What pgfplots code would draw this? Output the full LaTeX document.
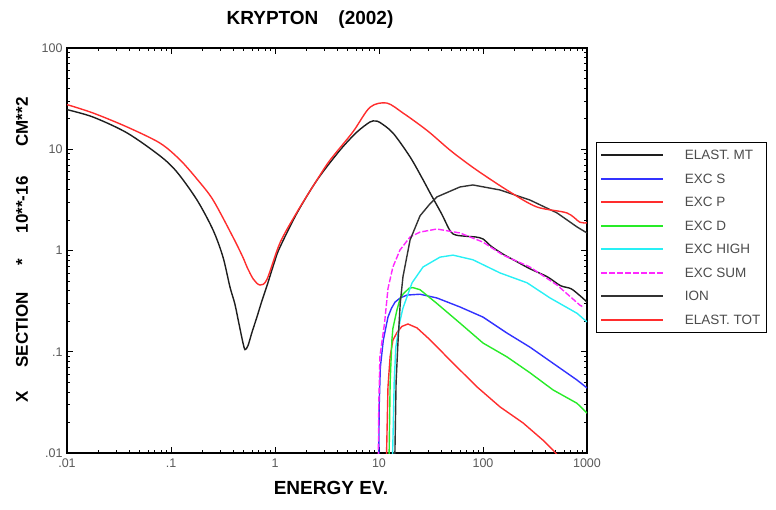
\documentclass[border=0pt]{standalone}
\usepackage{fontspec}
\setmainfont{Liberation Sans}
\usepackage{pgfplots}
\pgfplotsset{compat=1.18}
\definecolor{cblack}{RGB}{30,30,30}
\definecolor{cblue}{RGB}{50,50,255}
\definecolor{cred}{RGB}{255,45,45}
\definecolor{cgreen}{RGB}{40,235,40}
\definecolor{ccyan}{RGB}{40,240,245}
\definecolor{cmag}{RGB}{255,40,255}
\definecolor{cgray}{RGB}{50,50,50}
\begin{document}
\begin{tikzpicture}
\useasboundingbox (-67pt,-56pt) rectangle (709pt,453pt);
\begin{axis}[
  at={(0pt,0pt)}, anchor=south west,
  scale only axis, width=520pt, height=405pt,
  xmode=log, ymode=log,
  xmin=0.01, xmax=1000, ymin=0.01, ymax=100,
  xtick={0.01,0.1,1,10,100,1000},
  xticklabels={.01,.1,1,10,100,1000},
  ytick={0.01,0.1,1,10,100},
  yticklabels={.01,.1,1,10,100},
  minor xtick={0.02,0.03,0.04,0.05,0.06,0.07,0.08,0.09,0.2,0.3,0.4,0.5,0.6,0.7,0.8,0.9,2,3,4,5,6,7,8,9,20,30,40,50,60,70,80,90,200,300,400,500,600,700,800,900},
  minor ytick={0.02,0.03,0.04,0.05,0.06,0.07,0.08,0.09,0.2,0.3,0.4,0.5,0.6,0.7,0.8,0.9,2,3,4,5,6,7,8,9,20,30,40,50,60,70,80,90},
  tick align=inside,
  major tick length=6pt, minor tick length=3pt,
  tick style={black, line width=0.8pt},
  axis line style={line width=1.3pt},
  ticklabel style={font=\fontsize{12.5}{14}\selectfont, color=black!65},
  xticklabel style={yshift=-2pt},
  yticklabel style={xshift=-1pt},
  every axis plot/.append style={line width=1.4pt},
  legend image code/.code={\draw[#1, line width=2pt] (0pt,0pt) -- (62pt,0pt);},
  legend style={at={(1.0173,0.768)}, anchor=north west, draw=black, line width=0.8pt,
    font=\fontsize{13.5}{15}\selectfont, text=black!70, row sep=11pt,
    inner xsep=4pt, inner ysep=6.5pt,
    nodes={inner sep=1.5pt, text height=9.5pt, text depth=0pt},
    /tikz/every odd column/.append style={column sep=19pt}},
  legend cell align=left,
]
% ELAST. MT
\addplot[cblack, smooth] coordinates {
(0.01,24.6)(0.0178,20.8)(0.0378,14.5)(0.0784,8.6)(0.114,5.96)(0.178,3.15)(0.254,1.59)(0.316,0.863)(0.369,0.436)(0.41,0.30)(0.45,0.19)(0.49,0.125)(0.515,0.105)(0.55,0.115)(0.6,0.155)(0.67,0.22)(0.75,0.32)(0.838,0.45)(1.0,0.8)(1.117,1.08)(1.63,2.35)(2.54,4.97)(4.22,9.8)(6.14,14.8)(8.2,18.6)(9.2,19.0)(10.2,18.4)(13.6,14.5)(19.9,8.4)(26.5,5.0)(31,3.7)(40,2.3)(48.5,1.55)(55,1.42)(70,1.38)(85,1.36)(100,1.3)(120,1.1)(156,0.92)(200,0.8)(283,0.66)(415,0.55)(555,0.45)(700,0.42)(850,0.36)(1000,0.31)};
\addlegendentry{ELAST. MT}
% EXC S
\addplot[cblue] coordinates {
(9.95,0.009)(10.05,0.03)(10.3,0.07)(11,0.13)(12.2,0.22)(13.2,0.27)(14.3,0.31)(16,0.34)(18.6,0.363)(24.8,0.37)(36,0.34)(60,0.277)(100,0.22)(170,0.153)(283,0.111)(471,0.077)(801,0.0526)(1000,0.0439)};
\addlegendentry{EXC S}
% EXC P
\addplot[cred] coordinates {
(11.8,0.009)(12.2,0.045)(12.8,0.09)(13.6,0.13)(14.9,0.155)(16.6,0.178)(19,0.188)(23.2,0.172)(31,0.131)(48,0.083)(87.5,0.045)(146,0.0285)(243,0.0198)(377,0.0134)(471,0.0107)(520,0.0095)};
\addlegendentry{EXC P}
% EXC D
\addplot[cgreen] coordinates {
(12.5,0.009)(12.8,0.05)(13.3,0.13)(13.6,0.17)(14.9,0.26)(15.9,0.33)(17.0,0.37)(19.5,0.425)(21.2,0.43)(24.8,0.41)(36,0.30)(60,0.192)(100,0.122)(170,0.089)(283,0.062)(471,0.042)(801,0.031)(1000,0.0248)};
\addlegendentry{EXC D}
% EXC HIGH
\addplot[ccyan] coordinates {
(13.5,0.009)(14.0,0.05)(14.5,0.11)(15.9,0.2)(17,0.27)(20.8,0.48)(26.5,0.687)(38.6,0.86)(51.5,0.9)(80,0.81)(146,0.6)(265,0.48)(441,0.34)(801,0.24)(1000,0.197)};
\addlegendentry{EXC HIGH}
% EXC SUM
\addplot[cmag, dash pattern=on 6pt off 2pt] coordinates {
(9.85,0.009)(9.95,0.03)(10.2,0.089)(10.6,0.12)(11.3,0.19)(12.2,0.42)(13.6,0.687)(15.9,1.01)(19.9,1.36)(24.8,1.52)(36,1.63)(60,1.49)(100,1.21)(156,0.9)(283,0.687)(515,0.456)(850,0.29)(914,0.277)};
\addlegendentry{EXC SUM}
% ION
\addplot[cgray] coordinates {
(14.2,0.009)(14.6,0.05)(15.2,0.12)(16,0.3)(17,0.55)(19.9,1.27)(24.8,2.2)(31,2.9)(36,3.38)(60,4.24)(80,4.44)(146,3.96)(283,3.15)(515,2.35)(801,1.71)(1000,1.49)};
\addlegendentry{ION}
% ELAST. TOT
\addplot[cred, smooth] coordinates {
(0.01,27.6)(0.0178,22.8)(0.0378,16.6)(0.0784,11.5)(0.1225,7.83)(0.18,5.0)(0.254,3.15)(0.394,1.36)(0.49,0.863)(0.538,0.687)(0.62,0.52)(0.718,0.456)(0.838,0.52)(1.117,1.19)(1.63,2.4)(2.54,5.0)(3.38,7.8)(5.6,14.8)(8.2,26)(11.9,28.6)(17,22.8)(23.2,18.2)(31,14.5)(50,9.5)(87.5,6.2)(182,3.78)(330,2.69)(640,2.35)(855,1.9)(1000,1.88)};
\addlegendentry{ELAST. TOT}
\end{axis}
\node[font=\bfseries\fontsize{19}{22}\selectfont] at (243pt,433pt) {KRYPTON\hspace{20pt}(2002)};
\node[font=\bfseries\fontsize{19}{22}\selectfont] at (264pt,-35pt) {ENERGY EV.};
\node[font=\bfseries\fontsize{17}{20}\selectfont, rotate=90] at (-45pt,203pt) {X\hspace{24pt}SECTION\hspace{26pt}*\hspace{26pt}10**-16\hspace{30pt}CM**2};
\end{tikzpicture}
\end{document}
